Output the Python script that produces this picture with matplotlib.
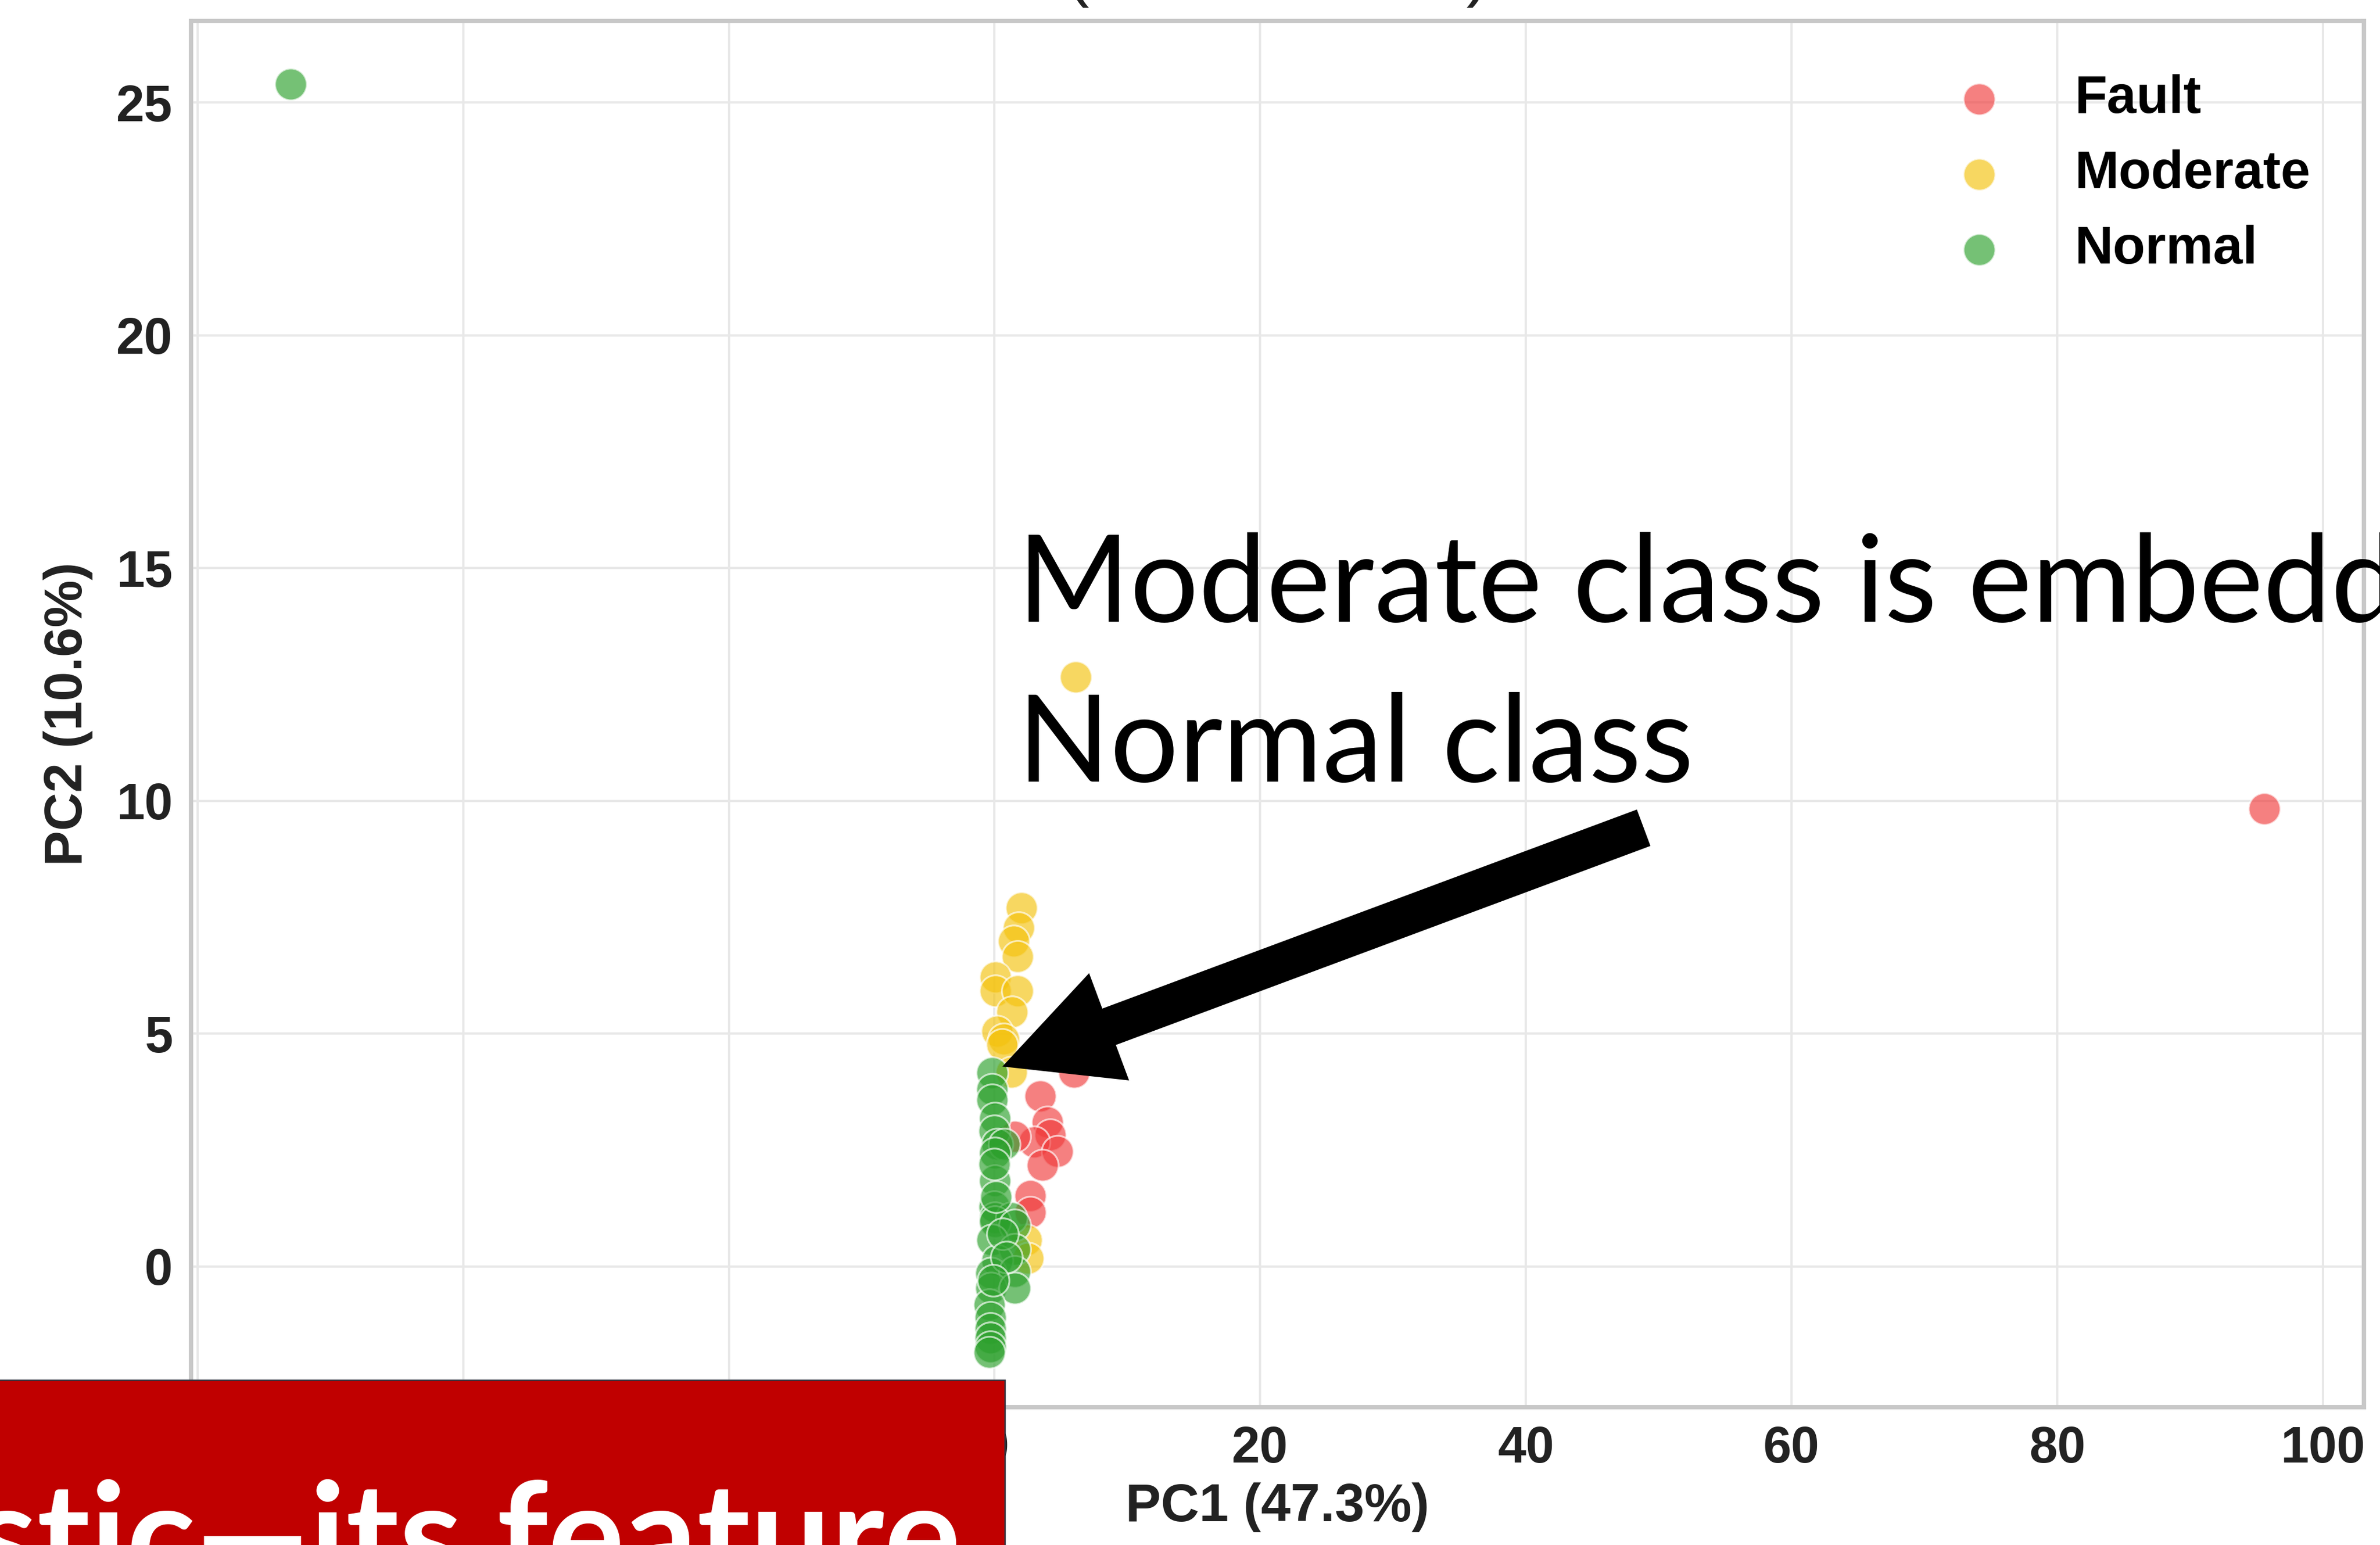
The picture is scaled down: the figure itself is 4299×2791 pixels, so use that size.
import matplotlib
matplotlib.use('Agg')
import matplotlib.pyplot as plt
from matplotlib.patches import Rectangle, FancyArrow

# PCA scores
fault_x = [95.6, 6.0, 3.42, 4.0, 4.2, 3.0, 4.75, 3.62, 1.54, 2.67, 2.67]
fault_y = [9.83, 4.17, 3.66, 3.10, 2.83, 2.68, 2.47, 2.18, 2.79, 1.52, 1.17]

moderate_x = [6.1, 2.04, 1.83, 1.42, 1.71, 0.08, 0.08, 1.71, 1.33, 0.17, 0.67, 0.58, 1.29, 2.38, 2.54]
moderate_y = [12.66, 7.70, 7.27, 6.99, 6.66, 6.22, 5.92, 5.92, 5.47, 5.05, 4.89, 4.77, 4.17, 0.57, 0.18]

normal_x = [-53.0, -0.17, -0.17, -0.17, 0.04, -0.04, 0.17, 0.71, 0.04, 0.04, -0.04, 0.04, 1.29,
            0.04, 1.54, -0.17, 1.54, 0.17, -0.25, 1.54, -0.25, 1.54, -0.38, -0.33, -0.33, -0.33,
            -0.33, -0.38, 0.0, 0.1, 0.6, 0.9, -0.1]
normal_y = [25.4, 4.16, 3.80, 3.58, 3.19, 2.91, 2.63, 2.63, 2.44, 1.84, 1.28, 1.05, 1.05,
            0.96, 0.89, 0.57, 0.37, 0.13, -0.14, -0.11, -0.46, -0.46, -0.82, -1.09, -1.33, -1.53,
            -1.72, -1.84, 2.2, 1.5, 0.7, 0.2, -0.3]

classes = ['Fault', 'Moderate', 'Normal']
colors = ['#f03c3c', '#f4c20d', '#2ca02c']
xs = [fault_x, moderate_x, normal_x]
ys = [fault_y, moderate_y, normal_y]

W, H, DPI = 4299, 2791, 300
plt.rcParams['font.family'] = ['Liberation Sans', 'DejaVu Sans']
plt.rcParams['font.weight'] = 'bold'
plt.rcParams['axes.labelweight'] = 'bold'

fig = plt.figure(figsize=(W / DPI, H / DPI), dpi=DPI)
fig.patch.set_facecolor('white')
ax = fig.add_axes([345 / W, 1 - 2542 / H, (4270 - 345) / W, (2542 - 38) / H])

for name, col, x, y in zip(classes, colors, xs, ys):
    ax.scatter(x, y, s=190, c=col, alpha=0.65, edgecolors='white', linewidths=0.8,
               label=name, zorder=3)

ax.set_xlim(-60.5, 103.1)
ax.set_ylim(-3.02, 26.75)
ax.set_xticks([-60, -40, -20, 0, 20, 40, 60, 80, 100])
ax.set_yticks([0, 5, 10, 15, 20, 25])
ax.grid(True, color='#e8e8e8', lw=1.0)
ax.set_axisbelow(True)
for sp in ax.spines.values():
    sp.set_color('#c8c8c8')
    sp.set_linewidth(1.9)
ax.tick_params(length=0, pad=8, labelsize=22, labelcolor='#222222')
ax.set_xlabel('PC1 (47.3%)', fontsize=23, color='#222222', labelpad=4)
ax.set_ylabel('PC2 (10.6%)', fontsize=23, color='#222222', labelpad=10)

ax.legend(loc='upper left', bbox_to_anchor=(3441 / W, 1 - 96 / H),
          bbox_transform=fig.transFigure, frameon=False, fontsize=23,
          labelspacing=0.48, handletextpad=0.8, borderaxespad=0, borderpad=0.4)

# title, mostly cut off at the top edge
fig.text(2308 / W, 1 + 12 / H, '(PC1 vs PC2)', ha='center', va='baseline',
         fontsize=30, fontweight='normal', color='#222222')

# annotation
fig.text(1838 / W, 1 - 1123 / H, 'Moderate class is embedded in', family=['Lato', 'DejaVu Sans'],
         fontweight='normal', fontsize=52.5, va='baseline', color='black')
fig.text(1838 / W, 1 - 1412 / H, 'Normal class', family=['Lato', 'DejaVu Sans'],
         fontweight='normal', fontsize=52.5, va='baseline', color='black')

arrow = FancyArrow(2967 / DPI, (H - 1496) / DPI, -3.84, -1.43, width=0.22,
                   head_width=0.667, head_length=0.663, length_includes_head=True,
                   color='black', transform=fig.dpi_scale_trans, zorder=10)
fig.add_artist(arrow)

# red banner overlapping bottom-left
box = Rectangle((-0.1, -0.5), 1815 / DPI + 0.1, (H - 2493) / DPI + 0.5,
                transform=fig.dpi_scale_trans, facecolor='#C00000',
                edgecolor='#2e3440', lw=0.6, zorder=11)
fig.add_artist(box)
fig.text(1735 / W, 1 - 2864 / H, 'realistic\u2014its feature', color='white',
         family=['Lato', 'DejaVu Sans'], fontweight='bold', fontsize=62,
         ha='right', va='baseline', zorder=12)

fig.savefig('out.png', dpi=DPI)
